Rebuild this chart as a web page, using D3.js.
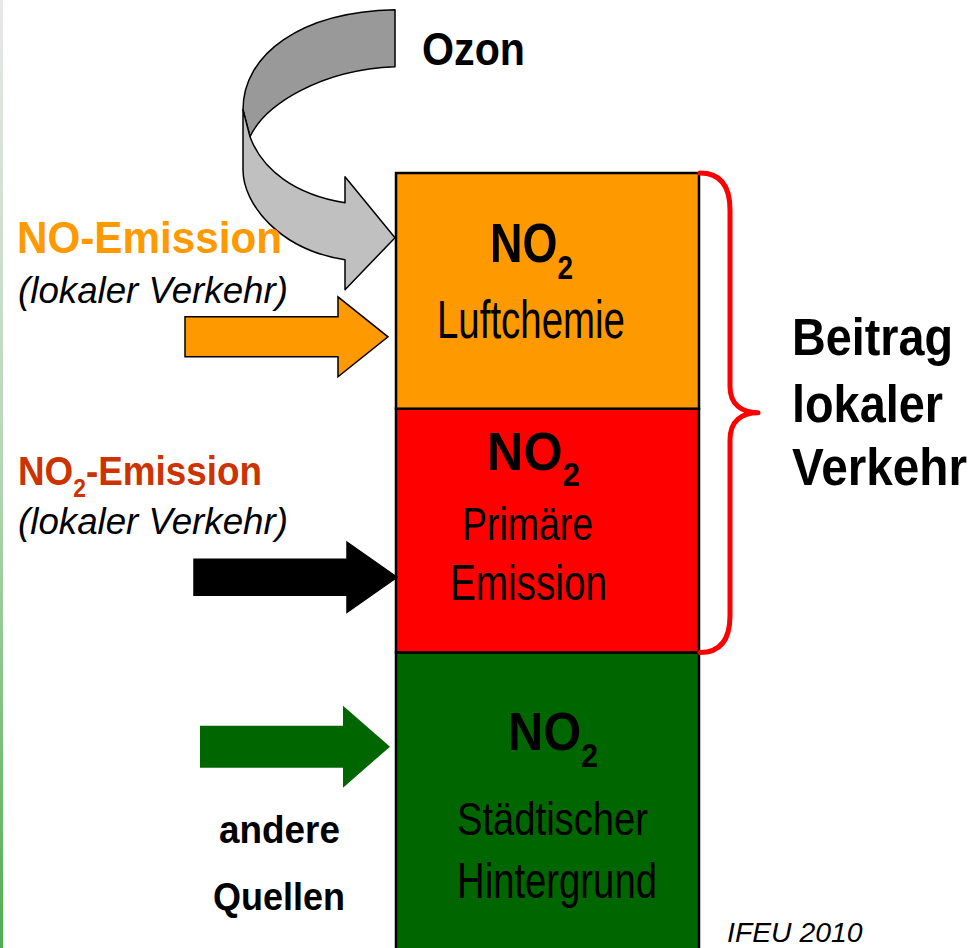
<!DOCTYPE html>
<html>
<head>
<meta charset="utf-8">
<script src="https://cdn.jsdelivr.net/npm/d3@7"></script>
<style>
  html, body { margin: 0; padding: 0; background: #fff; }
  svg { display: block; font-family: "Liberation Sans", Arial, sans-serif; }
</style>
</head>
<body>
<div id="chart"></div>
<script>
// DATA //

// Stacked NO2 layers, bottom to top (share of the column, arbitrary units)
const layers = ["Städtischer Hintergrund", "Primäre Emission", "Luftchemie"];
const layerShares = [40, 30.5, 29.5];
const layerLines = [["Städtischer", "Hintergrund"], ["Primäre", "Emission"], ["Luftchemie"]];

// Sources that feed the column, and the level where each arrow hits it
const sources = ["andere Quellen", "NO2-Emission", "NO-Emission", "Ozon"];
const sourceLevels = [28.2, 49.4, 79.5, 91.9];

// Bracket over the traffic share
const bracketLabel = ["Beitrag", "lokaler", "Verkehr"];
const credit = "IFEU 2010";

// STYLES //

const layerColors = ["#006600", "#ff0000", "#ff9900"];
const arrowStyle = {
  "andere Quellen": { fill: "#006600", stroke: "none" },
  "NO2-Emission": { fill: "#000000", stroke: "#000" },
  "NO-Emission": { fill: "#ff9900", stroke: "#000" },
};

// DIMENSIONS //

const width = 972;
const height = 948;
const box = { x: 396, width: 303 };

const y = d3.scaleLinear().domain([0, 100]).range([972, 173]);

const svg = d3
  .select("#chart")
  .append("svg")
  .attr("width", width)
  .attr("height", height);

// thin gradient strip on the left edge of the slide
const grad = svg.append("defs").append("linearGradient")
  .attr("id", "edge").attr("x1", 0).attr("x2", 0).attr("y1", 0).attr("y2", 1);
grad.append("stop").attr("offset", "0%").attr("stop-color", "#e8e8e8");
grad.append("stop").attr("offset", "50%").attr("stop-color", "#b4d6b4");
grad.append("stop").attr("offset", "100%").attr("stop-color", "#4fae4f");
svg.append("rect").attr("x", 0).attr("y", 0).attr("width", 3).attr("height", height)
  .attr("fill", "url(#edge)");

// Helper: draw text with optional subscript, squeeze it to a measured width
function label(g, o) {
  const t = g.append("text")
    .attr("x", 0).attr("y", 0)
    .attr("font-size", o.size)
    .attr("font-weight", o.weight || "normal")
    .attr("font-style", o.style || "normal")
    .attr("fill", o.fill || "#000");
  const parts = o.parts || [{ text: o.text }];
  let shifted = false;
  parts.forEach((p) => {
    const ts = t.append("tspan").text(p.text);
    if (p.sub) {
      ts.attr("font-size", o.size * 0.62).attr("dy", o.size * (o.subShift || 0.3));
      shifted = true;
    } else if (shifted) {
      ts.attr("dy", -o.size * (o.subShift || 0.3));
      shifted = false;
    }
  });
  const k = o.w / t.node().getBBox().width;
  t.attr("transform", `translate(${o.x},${o.y}) scale(${k},1)`);
  return t;
}

const no2 = [{ text: "NO" }, { text: "2", sub: true }];

// LAYERS //

const tops = d3.cumsum(layerShares);
const stacked = layers.map((name, i) => ({
  name,
  lines: layerLines[i],
  y0: tops[i] - layerShares[i],
  y1: tops[i],
  color: layerColors[i],
}));

const boxes = svg.append("g");
boxes
  .selectAll("rect")
  .data(stacked)
  .join("rect")
  .attr("x", box.x)
  .attr("width", box.width)
  .attr("y", (d) => y(d.y1))
  .attr("height", (d) => y(d.y0) - y(d.y1))
  .attr("fill", (d) => d.color)
  .attr("stroke", "#000")
  .attr("stroke-width", 2.5);

// label placement inside each layer (offsets from layer top)
const boxText = [
  { no: { x: 508, dy: 98, w: 90, size: 54 },
    lines: [{ x: 457, dy: 183, w: 191, size: 46 }, { x: 457, dy: 246, w: 200, size: 50 }] },
  { no: { x: 487, dy: 61, w: 93, size: 53 },
    lines: [{ x: 462, dy: 131, w: 131, size: 47 }, { x: 450, dy: 191, w: 157, size: 50 }] },
  { no: { x: 490, dy: 89, w: 83, size: 55 },
    lines: [{ x: 437, dy: 165, w: 188, size: 53 }] },
];

stacked.forEach((d, i) => {
  const top = y(d.y1);
  const lay = boxText[i];
  label(boxes, { x: lay.no.x, y: top + lay.no.dy, w: lay.no.w, size: lay.no.size,
    weight: "bold", parts: no2, subShift: 0.3 });
  d.lines.forEach((line, j) => {
    const l = lay.lines[j];
    label(boxes, { x: l.x, y: top + l.dy, w: l.w, size: l.size, text: line });
  });
});

// ARROWS //

const arrowGeom = {
  "andere Quellen": { x0: 200, head: 343, tip: 390, shaft: 21, barb: 41 },
  "NO2-Emission": { x0: 194, head: 347, tip: 397, shaft: 18, barb: 35 },
  "NO-Emission": { x0: 185, head: 338, tip: 388, shaft: 20, barb: 40 },
};

const arrows = svg.append("g");
sources.forEach((name, i) => {
  const cy = y(sourceLevels[i]);
  if (name === "Ozon") {
    // curved ribbon arrow coming over the top
    const g = arrows.append("g").attr("transform", `translate(${box.x - 1},${cy})`);
    g.append("path")
      .attr("d", "M0,-228 C-95,-226 -152,-183 -152,-128 L-145,-101 C-130,-133 -75,-168 0,-171 Z")
      .attr("fill", "#999999").attr("stroke", "#000").attr("stroke-width", 1.5)
      .attr("stroke-linejoin", "round");
    g.append("path")
      .attr("d", "M-152,-128 L-152,-68 C-152,-33 -115,12 -50,22 L-50,52 L0,0 L-50,-61 L-50,-35 C-100,-43 -133,-68 -145,-101 Z")
      .attr("fill", "#c0c0c0").attr("stroke", "#000").attr("stroke-width", 1.5)
      .attr("stroke-linejoin", "round");
    return;
  }
  const a = arrowGeom[name];
  const st = arrowStyle[name];
  const pts = [
    [a.x0, cy - a.shaft], [a.head, cy - a.shaft], [a.head, cy - a.barb], [a.tip, cy],
    [a.head, cy + a.barb], [a.head, cy + a.shaft], [a.x0, cy + a.shaft],
  ];
  arrows.append("path")
    .attr("d", d3.line()(pts) + "Z")
    .attr("fill", st.fill)
    .attr("stroke", st.stroke)
    .attr("stroke-width", 1.5);
});

// SOURCE LABELS //

const texts = svg.append("g");
label(texts, { x: 422, y: 65, w: 103, size: 46, weight: "bold", text: "Ozon" });
label(texts, { x: 17, y: 253, w: 265, size: 44, weight: "bold", fill: "#ff9900", text: "NO-Emission" });
label(texts, { x: 18, y: 303, w: 270, size: 37, style: "italic", text: "(lokaler Verkehr)" });
label(texts, { x: 18, y: 485, w: 244, size: 41, weight: "bold", fill: "#cc3300",
  parts: [{ text: "NO" }, { text: "2", sub: true }, { text: "-Emission" }] });
label(texts, { x: 18, y: 534, w: 270, size: 37, style: "italic", text: "(lokaler Verkehr)" });
label(texts, { x: 219, y: 843, w: 121, size: 39, weight: "bold", text: "andere" });
label(texts, { x: 213, y: 910, w: 132, size: 39, weight: "bold", text: "Quellen" });
label(texts, { x: 727, y: 942, w: 136, size: 28, style: "italic", text: credit });

// BRACKET //

const bTop = y(tops[2]);
const bBot = y(tops[0]);
const bMid = (bTop + bBot) / 2;
const bx = box.x + box.width + 1;
const bracket = d3.path();
bracket.moveTo(bx, bTop);
bracket.bezierCurveTo(bx + 22, bTop, bx + 30, bTop + 15, bx + 30, bTop + 37);
bracket.lineTo(bx + 30, bMid - 26);
bracket.bezierCurveTo(bx + 30, bMid - 8, bx + 42, bMid, bx + 58, bMid);
bracket.bezierCurveTo(bx + 42, bMid, bx + 30, bMid + 8, bx + 30, bMid + 27);
bracket.lineTo(bx + 30, bBot - 37);
bracket.bezierCurveTo(bx + 30, bBot - 15, bx + 22, bBot, bx, bBot);
svg.append("path")
  .attr("d", bracket.toString())
  .attr("fill", "none")
  .attr("stroke", "#ff0000")
  .attr("stroke-width", 5)
  .attr("stroke-linecap", "round")
  .attr("stroke-linejoin", "round");

const bracketGeom = [
  { x: 792, y: 355, w: 161 },
  { x: 792, y: 422, w: 151 },
  { x: 792, y: 485, w: 175 },
];
bracketLabel.forEach((word, i) => {
  const g = bracketGeom[i];
  label(texts, { x: g.x, y: g.y, w: g.w, size: 52, weight: "bold", text: word });
});
</script>
</body>
</html>
